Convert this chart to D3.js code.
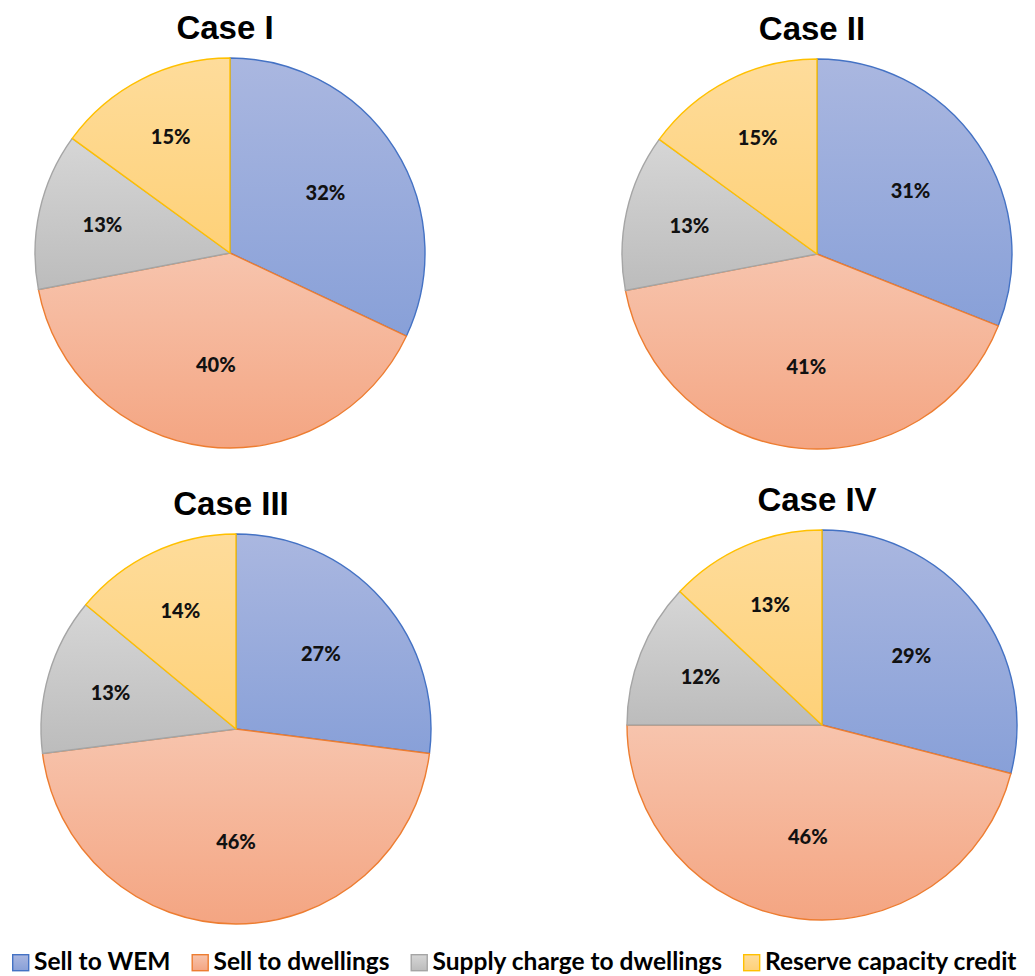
<!DOCTYPE html>
<html>
<head>
<meta charset="utf-8">
<script src="https://cdn.jsdelivr.net/npm/d3@7"></script>
<style>
  body { margin: 0; background: #ffffff; }
  svg { display: block; }
</style>
</head>
<body>
<div id="chart"></div>
<script>
// Data
const categories = ['Sell to WEM', 'Sell to dwellings', 'Supply charge to dwellings', 'Reserve capacity credit'];
const caseNames = ['Case I', 'Case II', 'Case III', 'Case IV'];
const caseI = [32, 40, 13, 15];
const caseII = [31, 41, 13, 15];
const caseIII = [27, 46, 13, 14];
const caseIV = [29, 46, 12, 13];
const caseValues = [caseI, caseII, caseIII, caseIV];

// Excel-like palette: stroke + two gradient stops
const strokeColors = ['#4472c4', '#ed7d31', '#a5a5a5', '#ffc000'];
const lightColors = ['#aab7e0', '#f7c4ad', '#d6d6d6', '#fedc9b'];
const darkColors = ['#88a0d8', '#f4a582', '#bcbcbc', '#fed178'];

// Layout of the four panels
const width = 1035, height = 976;
const panelCenters = [[230, 253], [817, 254], [236, 729], [822, 725]];
const radius = 195;

const svg = d3.select('#chart')
  .append('svg')
  .attr('width', width)
  .attr('height', height);

// Gradients
const defs = svg.append('defs');
categories.forEach((c, i) => {
  const g = defs.append('linearGradient')
    .attr('id', 'grad' + i)
    .attr('x1', 0).attr('y1', 0)
    .attr('x2', 0).attr('y2', 1);
  g.append('stop').attr('offset', '0%').attr('stop-color', lightColors[i]);
  g.append('stop').attr('offset', '100%').attr('stop-color', darkColors[i]);
});

const pie = d3.pie().sort(null).value(d => d);
const arc = d3.arc().innerRadius(0).outerRadius(radius);

caseValues.forEach((values, k) => {
  const [cx, cy] = panelCenters[k];
  const g = svg.append('g').attr('transform', `translate(${cx},${cy})`);
  const total = d3.sum(values);
  const arcs = pie(values);

  g.selectAll('path')
    .data(arcs)
    .enter()
    .append('path')
    .attr('d', arc)
    .attr('fill', (d, i) => `url(#grad${i})`)
    .attr('stroke', (d, i) => strokeColors[i])
    .attr('stroke-width', 1.4)
    .attr('stroke-linejoin', 'round');

  // Data labels: small slices are pushed a little further out
  g.selectAll('text.lbl')
    .data(arcs)
    .enter()
    .append('text')
    .attr('class', 'lbl')
    .attr('transform', d => {
      const frac = d.value / total;
      const lr = radius * (frac >= 0.2 ? 0.58 : 0.67);
      const c = d3.arc().innerRadius(lr).outerRadius(lr).centroid(d);
      return `translate(${c})`;
    })
    .attr('text-anchor', 'middle')
    .attr('dy', '0.36em')
    .style('font-family', 'Lato, "Open Sans", sans-serif')
    .style('font-weight', 900)
    .style('font-size', '20px')
    .style('fill', '#111')
    .text(d => d.value + '%');

  // Title
  svg.append('text')
    .attr('x', cx - 5)
    .attr('y', cy - radius - 19)
    .attr('text-anchor', 'middle')
    .style('font-family', '"Liberation Sans", Arial, sans-serif')
    .style('font-weight', 'bold')
    .style('font-size', '33px')
    .style('fill', '#000')
    .text(caseNames[k]);
});

// Legend along the bottom (last entry runs off the edge, as in the original)
const legend = svg.append('g').attr('transform', 'translate(12, 954)');
let x = 0;
categories.forEach((c, i) => {
  const item = legend.append('g').attr('transform', `translate(${x},0)`);
  item.append('rect')
    .attr('x', 0.7).attr('y', 0.7)
    .attr('width', 16).attr('height', 16)
    .attr('fill', `url(#grad${i})`)
    .attr('stroke', strokeColors[i])
    .attr('stroke-width', 1.4);
  const t = item.append('text')
    .attr('x', 22)
    .attr('y', 16)
    .style('font-family', 'Lato, "Open Sans", sans-serif')
    .style('font-weight', 'bold')
    .style('font-size', '24.5px')
    .style('fill', '#000')
    .text(c);
  x += 22 + t.node().getComputedTextLength() + 21;
});
</script>
</body>
</html>
